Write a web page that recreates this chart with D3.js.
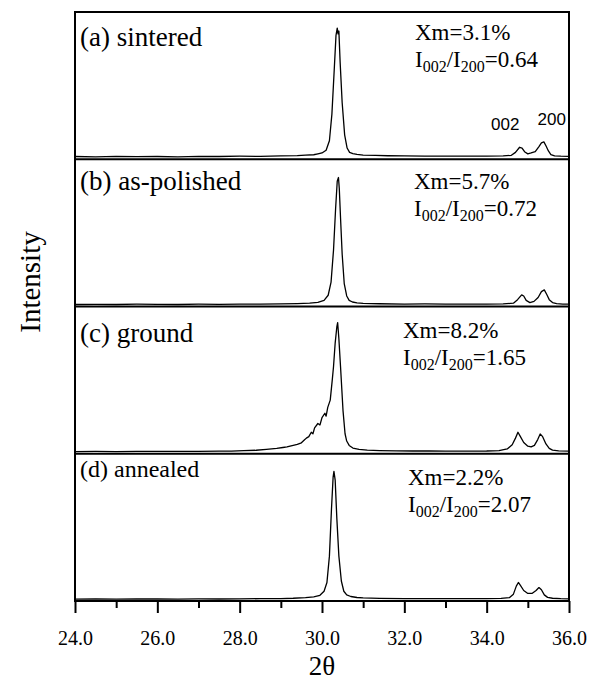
<!DOCTYPE html>
<html>
<head>
<meta charset="utf-8">
<script src="https://cdn.jsdelivr.net/npm/d3@7"></script>
<style>
  html, body { margin: 0; padding: 0; background: #fff; overflow: hidden; }
  svg { display: block; }
  svg text { font-family: 'Liberation Serif', 'DejaVu Serif', serif; fill: #000; }
</style>
</head>
<body>
<div id="chart"></div>
<script>
// Chart values (intensity as % of panel height)
const panelNames = ["(a) sintered", "(b) as-polished", "(c) ground", "(d) annealed"];
const xmLabels = ["Xm=3.1%", "Xm=5.7%", "Xm=8.2%", "Xm=2.2%"];
const ratioLabels = ["0.64", "0.72", "1.65", "2.07"];
const xTicks = [24, 26, 28, 30, 32, 34, 36];
const xMinorTicks = [25, 27, 29, 31, 33, 35];

const thetaA = [24.0,24.5,25.0,25.5,26.0,26.5,27.0,27.5,28.0,28.5,29.0,29.4,29.6,29.8,29.9,30.0,30.1,30.18,30.24,30.3,30.34,30.37,30.39,30.41,30.44,30.49,30.55,30.61,30.67,30.75,30.85,31.0,31.3,31.6,32.0,32.5,33.0,33.5,34.0,34.4,34.6,34.7,34.8,34.86,34.92,35.0,35.08,35.18,35.27,35.33,35.39,35.44,35.5,35.56,35.65,35.8,36.0];
const intA   = [1.2,1.0,1.3,1.1,1.2,1.0,1.3,1.2,1.4,1.3,1.6,1.8,2.2,2.4,3.0,3.6,5.5,12,30,62,84,89,85,87,66,38,16,7,4,3.2,2.6,2.2,1.9,1.7,1.6,1.5,1.5,1.4,1.5,1.6,2.0,4.0,7.5,7.0,4.5,3.0,3.6,4.5,8.0,10.5,11.2,8.5,5,2.5,1.6,1.4,1.3];

const thetaB = [24.0,24.5,25.0,25.5,26.0,26.5,27.0,27.5,28.0,28.5,29.0,29.4,29.7,29.9,30.05,30.15,30.22,30.28,30.33,30.37,30.4,30.42,30.45,30.49,30.54,30.6,30.66,30.74,30.85,31.0,31.4,32.0,32.5,33.0,33.5,34.0,34.4,34.65,34.75,34.85,34.9,34.96,35.05,35.15,35.25,35.33,35.4,35.46,35.52,35.6,35.7,35.85,36.0];
const intB   = [0.7,0.8,0.7,0.9,0.8,0.7,0.9,0.8,1.0,0.9,1.1,1.3,1.6,2.2,3.5,7,16,38,66,85,87.5,80,60,35,15,6.5,3.5,2.4,1.8,1.5,1.2,1.0,1.1,0.9,1.0,1.0,1.1,1.6,4.0,7.3,6.5,3.5,2.0,2.8,5.5,9.5,10.7,7.5,4.0,2.0,1.3,1.0,0.9];

const thetaC = [24.0,24.5,25.0,25.5,26.0,26.5,27.0,27.5,27.8,28.1,28.4,28.65,28.9,29.05,29.15,29.3,29.4,29.5,29.57,29.62,29.68,29.74,29.78,29.82,29.9,29.95,30.0,30.07,30.1,30.14,30.2,30.25,30.28,30.32,30.36,30.38,30.41,30.45,30.51,30.56,30.6,30.66,30.75,30.9,31.1,31.4,31.8,32.2,32.6,33.0,33.5,34.0,34.3,34.5,34.62,34.7,34.76,34.82,34.9,35.0,35.08,35.16,35.24,35.3,35.36,35.44,35.52,35.6,35.75,36.0];
const intC   = [0.8,0.9,0.8,1.0,0.9,1.0,1.0,1.1,1.1,1.4,1.7,2.3,3.0,3.6,4.0,5.0,5.7,6.8,8.7,10,11,14,13,17,20,19,24,27,25,31,36,50,59,75,86,89,78,59,29,13,8,5,3.2,2.3,1.8,1.5,1.3,1.2,1.2,1.1,1.1,1.2,1.5,2.6,5.5,10,14,11,7,4.5,4.0,5.0,9,12.8,11,6,3,1.8,1.3,1.1];

const thetaD = [24.0,24.5,25.0,25.5,26.0,26.5,27.0,27.5,28.0,28.5,29.0,29.3,29.6,29.8,29.95,30.05,30.12,30.18,30.23,30.27,30.29,30.32,30.36,30.41,30.47,30.53,30.6,30.7,30.85,31.0,31.4,32.0,32.5,33.0,33.5,34.0,34.35,34.55,34.65,34.72,34.77,34.82,34.9,35.0,35.1,35.2,35.27,35.33,35.4,35.48,35.6,35.8,36.0];
const intD   = [0.6,0.7,0.6,0.7,0.7,0.6,0.8,0.7,0.8,0.9,1.0,1.2,1.6,2.2,3.2,6,12,30,62,84,88,82,56,30,13,6,3.5,2.4,1.7,1.4,1.1,1.0,0.9,0.9,1.0,1.0,1.1,1.6,4.0,9.5,12,10,6.5,4.5,4.5,6.5,8.5,7,3.5,1.8,1.2,0.9,0.8];

const thetas = [thetaA, thetaB, thetaC, thetaD];
const intensities = [intA, intB, intC, intD];

// layout
const width = 600, height = 684;
const margin = { top: 12, right: 31, bottom: 83, left: 75 };
const innerWidth = width - margin.left - margin.right;
const innerHeight = height - margin.top - margin.bottom;
const panelH = innerHeight / 4;

const svg = d3.select("#chart").append("svg")
  .attr("width", width)
  .attr("height", height);

const g = svg.append("g")
  .attr("transform", "translate(" + margin.left + "," + margin.top + ")");

const xScale = d3.scaleLinear().domain([24, 36]).range([0, innerWidth]);

// text baselines inside each panel (offset from panel top)
const nameY = [34, 31, 35, 23];
const nameSize = ["27px", "27px", "27px", "24px"];
const xmX = [340, 339, 328, 333];
const xmY = [28, 30, 31, 31];

for (let i = 0; i < 4; i++) {
  const top = i * panelH;
  const yScale = d3.scaleLinear().domain([0, 100]).range([top + panelH - 1, top]);
  const pts = thetas[i].map((t, k) => [t, intensities[i][k]]);

  g.append("path")
    .datum(pts)
    .attr("fill", "none")
    .attr("stroke", "#000")
    .attr("stroke-width", 1.3)
    .attr("stroke-linejoin", "round")
    .attr("d", d3.line().x(d => xScale(d[0])).y(d => yScale(d[1])));

  // panel name
  g.append("text")
    .attr("x", 5)
    .attr("y", top + nameY[i])
    .style("font-size", nameSize[i])
    .text(panelNames[i]);

  // Xm and ratio
  g.append("text")
    .attr("x", xmX[i])
    .attr("y", top + xmY[i])
    .style("font-size", "23px")
    .text(xmLabels[i]);

  const r = g.append("text")
    .attr("x", xmX[i])
    .attr("y", top + xmY[i] + 27)
    .style("font-size", "23px");
  r.append("tspan").text("I");
  r.append("tspan").attr("dy", 5).style("font-size", "16px").text("002");
  r.append("tspan").attr("dy", -5).text("/I");
  r.append("tspan").attr("dy", 5).style("font-size", "16px").text("200");
  r.append("tspan").attr("dy", -5).text("=" + ratioLabels[i]);

  // separator line
  if (i > 0) {
    g.append("line")
      .attr("x1", 0).attr("x2", innerWidth)
      .attr("y1", top).attr("y2", top)
      .attr("stroke", "#000").attr("stroke-width", 2);
  }
}

// peak labels in panel (a)
g.append("text")
  .attr("x", xScale(34.45))
  .attr("y", 118)
  .attr("text-anchor", "middle")
  .style("font-family", "'Liberation Sans', Arial, sans-serif")
  .style("font-size", "17px")
  .text("002");
g.append("text")
  .attr("x", xScale(35.58))
  .attr("y", 113)
  .attr("text-anchor", "middle")
  .style("font-family", "'Liberation Sans', Arial, sans-serif")
  .style("font-size", "17px")
  .text("200");

// frame
g.append("rect")
  .attr("width", innerWidth)
  .attr("height", innerHeight)
  .attr("fill", "none")
  .attr("stroke", "#000")
  .attr("stroke-width", 2);

// x axis: major ticks with labels, minor ticks without
const xAxis = d3.axisBottom(xScale)
  .tickValues(xTicks)
  .tickFormat(d3.format(".1f"))
  .tickSize(12)
  .tickPadding(18);

const ax = g.append("g")
  .attr("transform", "translate(0," + innerHeight + ")")
  .call(xAxis);
ax.select(".domain").remove();
ax.selectAll(".tick line").attr("stroke-width", 2);
ax.selectAll(".tick text")
  .style("font-family", "'Liberation Serif', 'DejaVu Serif', serif")
  .style("font-size", "20px");

const axMinor = g.append("g")
  .attr("transform", "translate(0," + innerHeight + ")")
  .call(d3.axisBottom(xScale).tickValues(xMinorTicks).tickSize(7).tickFormat(""));
axMinor.select(".domain").remove();
axMinor.selectAll(".tick line").attr("stroke-width", 2);

// axis titles
svg.append("text")
  .attr("x", margin.left + innerWidth / 2)
  .attr("y", 675)
  .attr("text-anchor", "middle")
  .style("font-size", "27px")
  .text("2θ");

svg.append("text")
  .attr("transform", "translate(40," + 282 + ") rotate(-90)")
  .attr("text-anchor", "middle")
  .style("font-size", "29px")
  .text("Intensity");
</script>
</body>
</html>
